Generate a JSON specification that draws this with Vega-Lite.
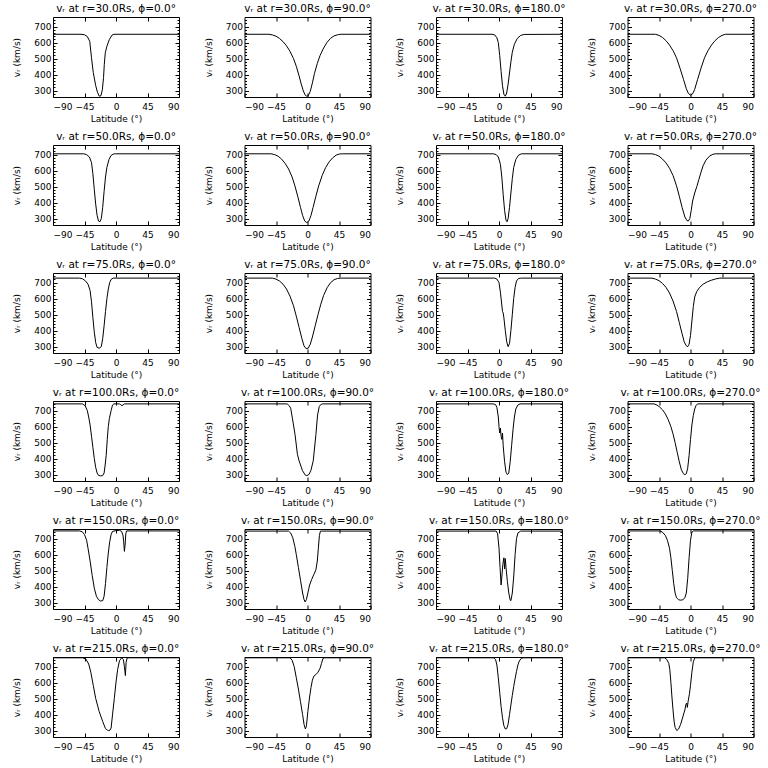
{
"$schema": "https://vega.github.io/schema/vega-lite/v6.json",
"padding": {"left": 12, "top": 3, "right": 0, "bottom": 0},
"background": "white",
"data": {"values": [
{"r":30,"phi":0,"lat":-90,"v":652},{"r":30,"phi":0,"lat":-50,"v":652},{"r":30,"phi":0,"lat":-45,"v":649},{"r":30,"phi":0,"lat":-41,"v":638},{"r":30,"phi":0,"lat":-37.5,"v":608},{"r":30,"phi":0,"lat":-35,"v":505},{"r":30,"phi":0,"lat":-32.5,"v":413},{"r":30,"phi":0,"lat":-29,"v":331},{"r":30,"phi":0,"lat":-26.5,"v":290},{"r":30,"phi":0,"lat":-24,"v":265},{"r":30,"phi":0,"lat":-21.5,"v":268},{"r":30,"phi":0,"lat":-19.5,"v":305},{"r":30,"phi":0,"lat":-17.8,"v":382},{"r":30,"phi":0,"lat":-16.7,"v":464},{"r":30,"phi":0,"lat":-15.3,"v":536},{"r":30,"phi":0,"lat":-13,"v":577},{"r":30,"phi":0,"lat":-9.6,"v":618},{"r":30,"phi":0,"lat":-5.7,"v":647},{"r":30,"phi":0,"lat":-3,"v":652},{"r":30,"phi":0,"lat":90,"v":652},
{"r":30,"phi":90,"lat":-90,"v":652},{"r":30,"phi":90,"lat":-55,"v":652},{"r":30,"phi":90,"lat":-50,"v":648},{"r":30,"phi":90,"lat":-45,"v":640},{"r":30,"phi":90,"lat":-40,"v":626},{"r":30,"phi":90,"lat":-35,"v":606},{"r":30,"phi":90,"lat":-30,"v":580},{"r":30,"phi":90,"lat":-25,"v":546},{"r":30,"phi":90,"lat":-20,"v":500},{"r":30,"phi":90,"lat":-16,"v":452},{"r":30,"phi":90,"lat":-12,"v":392},{"r":30,"phi":90,"lat":-9,"v":342},{"r":30,"phi":90,"lat":-6,"v":298},{"r":30,"phi":90,"lat":-3,"v":270},{"r":30,"phi":90,"lat":-1,"v":265},{"r":30,"phi":90,"lat":1,"v":268},{"r":30,"phi":90,"lat":4,"v":296},{"r":30,"phi":90,"lat":7,"v":348},{"r":30,"phi":90,"lat":10,"v":408},{"r":30,"phi":90,"lat":14,"v":470},{"r":30,"phi":90,"lat":18,"v":520},{"r":30,"phi":90,"lat":23,"v":566},{"r":30,"phi":90,"lat":28,"v":602},{"r":30,"phi":90,"lat":33,"v":627},{"r":30,"phi":90,"lat":38,"v":642},{"r":30,"phi":90,"lat":44,"v":650},{"r":30,"phi":90,"lat":48,"v":652},{"r":30,"phi":90,"lat":90,"v":652},
{"r":30,"phi":180,"lat":-90,"v":652},{"r":30,"phi":180,"lat":-10,"v":652},{"r":30,"phi":180,"lat":-6,"v":648},{"r":30,"phi":180,"lat":-3,"v":630},{"r":30,"phi":180,"lat":-1,"v":600},{"r":30,"phi":180,"lat":1,"v":520},{"r":30,"phi":180,"lat":3,"v":420},{"r":30,"phi":180,"lat":5,"v":330},{"r":30,"phi":180,"lat":7,"v":277},{"r":30,"phi":180,"lat":9,"v":265},{"r":30,"phi":180,"lat":11,"v":285},{"r":30,"phi":180,"lat":13,"v":340},{"r":30,"phi":180,"lat":15,"v":410},{"r":30,"phi":180,"lat":17,"v":480},{"r":30,"phi":180,"lat":19,"v":540},{"r":30,"phi":180,"lat":22,"v":590},{"r":30,"phi":180,"lat":26,"v":625},{"r":30,"phi":180,"lat":31,"v":645},{"r":30,"phi":180,"lat":36,"v":651},{"r":30,"phi":180,"lat":90,"v":652},
{"r":30,"phi":270,"lat":-90,"v":652},{"r":30,"phi":270,"lat":-50,"v":652},{"r":30,"phi":270,"lat":-45,"v":645},{"r":30,"phi":270,"lat":-40,"v":632},{"r":30,"phi":270,"lat":-35,"v":612},{"r":30,"phi":270,"lat":-30,"v":585},{"r":30,"phi":270,"lat":-25,"v":550},{"r":30,"phi":270,"lat":-20,"v":505},{"r":30,"phi":270,"lat":-15,"v":440},{"r":30,"phi":270,"lat":-10,"v":370},{"r":30,"phi":270,"lat":-6,"v":312},{"r":30,"phi":270,"lat":-3,"v":282},{"r":30,"phi":270,"lat":0,"v":272},{"r":30,"phi":270,"lat":3,"v":280},{"r":30,"phi":270,"lat":6,"v":308},{"r":30,"phi":270,"lat":10,"v":368},{"r":30,"phi":270,"lat":15,"v":440},{"r":30,"phi":270,"lat":20,"v":505},{"r":30,"phi":270,"lat":25,"v":550},{"r":30,"phi":270,"lat":30,"v":585},{"r":30,"phi":270,"lat":35,"v":612},{"r":30,"phi":270,"lat":40,"v":632},{"r":30,"phi":270,"lat":45,"v":645},{"r":30,"phi":270,"lat":50,"v":652},{"r":30,"phi":270,"lat":90,"v":652},
{"r":50,"phi":0,"lat":-90,"v":705},{"r":50,"phi":0,"lat":-46,"v":705},{"r":50,"phi":0,"lat":-42,"v":700},{"r":50,"phi":0,"lat":-38,"v":685},{"r":50,"phi":0,"lat":-35,"v":650},{"r":50,"phi":0,"lat":-33,"v":580},{"r":50,"phi":0,"lat":-31,"v":480},{"r":50,"phi":0,"lat":-29,"v":390},{"r":50,"phi":0,"lat":-27,"v":320},{"r":50,"phi":0,"lat":-25,"v":285},{"r":50,"phi":0,"lat":-23,"v":280},{"r":50,"phi":0,"lat":-21,"v":300},{"r":50,"phi":0,"lat":-19,"v":370},{"r":50,"phi":0,"lat":-17,"v":470},{"r":50,"phi":0,"lat":-15,"v":560},{"r":50,"phi":0,"lat":-13,"v":620},{"r":50,"phi":0,"lat":-10,"v":670},{"r":50,"phi":0,"lat":-7,"v":695},{"r":50,"phi":0,"lat":-4,"v":703},{"r":50,"phi":0,"lat":-1,"v":705},{"r":50,"phi":0,"lat":90,"v":705},
{"r":50,"phi":90,"lat":-90,"v":705},{"r":50,"phi":90,"lat":-52,"v":705},{"r":50,"phi":90,"lat":-47,"v":700},{"r":50,"phi":90,"lat":-42,"v":690},{"r":50,"phi":90,"lat":-37,"v":672},{"r":50,"phi":90,"lat":-32,"v":645},{"r":50,"phi":90,"lat":-27,"v":610},{"r":50,"phi":90,"lat":-22,"v":560},{"r":50,"phi":90,"lat":-18,"v":505},{"r":50,"phi":90,"lat":-14,"v":440},{"r":50,"phi":90,"lat":-10,"v":370},{"r":50,"phi":90,"lat":-7,"v":320},{"r":50,"phi":90,"lat":-4,"v":285},{"r":50,"phi":90,"lat":-1,"v":275},{"r":50,"phi":90,"lat":2,"v":285},{"r":50,"phi":90,"lat":5,"v":320},{"r":50,"phi":90,"lat":8,"v":370},{"r":50,"phi":90,"lat":12,"v":440},{"r":50,"phi":90,"lat":16,"v":505},{"r":50,"phi":90,"lat":21,"v":570},{"r":50,"phi":90,"lat":26,"v":620},{"r":50,"phi":90,"lat":31,"v":655},{"r":50,"phi":90,"lat":36,"v":680},{"r":50,"phi":90,"lat":41,"v":697},{"r":50,"phi":90,"lat":46,"v":704},{"r":50,"phi":90,"lat":50,"v":705},{"r":50,"phi":90,"lat":90,"v":705},
{"r":50,"phi":180,"lat":-90,"v":705},{"r":50,"phi":180,"lat":-8,"v":705},{"r":50,"phi":180,"lat":-4,"v":700},{"r":50,"phi":180,"lat":-1,"v":685},{"r":50,"phi":180,"lat":2,"v":640},{"r":50,"phi":180,"lat":4,"v":560},{"r":50,"phi":180,"lat":6,"v":450},{"r":50,"phi":180,"lat":8,"v":350},{"r":50,"phi":180,"lat":10,"v":290},{"r":50,"phi":180,"lat":11.5,"v":280},{"r":50,"phi":180,"lat":13,"v":300},{"r":50,"phi":180,"lat":15,"v":370},{"r":50,"phi":180,"lat":17,"v":460},{"r":50,"phi":180,"lat":19,"v":550},{"r":50,"phi":180,"lat":21,"v":620},{"r":50,"phi":180,"lat":24,"v":670},{"r":50,"phi":180,"lat":28,"v":697},{"r":50,"phi":180,"lat":32,"v":705},{"r":50,"phi":180,"lat":90,"v":705},
{"r":50,"phi":270,"lat":-90,"v":705},{"r":50,"phi":270,"lat":-55,"v":705},{"r":50,"phi":270,"lat":-50,"v":700},{"r":50,"phi":270,"lat":-45,"v":690},{"r":50,"phi":270,"lat":-40,"v":672},{"r":50,"phi":270,"lat":-35,"v":648},{"r":50,"phi":270,"lat":-30,"v":615},{"r":50,"phi":270,"lat":-25,"v":570},{"r":50,"phi":270,"lat":-20,"v":505},{"r":50,"phi":270,"lat":-16,"v":440},{"r":50,"phi":270,"lat":-12,"v":370},{"r":50,"phi":270,"lat":-8,"v":310},{"r":50,"phi":270,"lat":-5,"v":287},{"r":50,"phi":270,"lat":-3,"v":285},{"r":50,"phi":270,"lat":-1,"v":300},{"r":50,"phi":270,"lat":1,"v":350},{"r":50,"phi":270,"lat":3,"v":410},{"r":50,"phi":270,"lat":6,"v":460},{"r":50,"phi":270,"lat":9,"v":500},{"r":50,"phi":270,"lat":12,"v":545},{"r":50,"phi":270,"lat":15,"v":590},{"r":50,"phi":270,"lat":18,"v":630},{"r":50,"phi":270,"lat":22,"v":665},{"r":50,"phi":270,"lat":27,"v":690},{"r":50,"phi":270,"lat":32,"v":702},{"r":50,"phi":270,"lat":36,"v":705},{"r":50,"phi":270,"lat":90,"v":705},
{"r":75,"phi":0,"lat":-90,"v":728},{"r":75,"phi":0,"lat":-52,"v":728},{"r":75,"phi":0,"lat":-48,"v":724},{"r":75,"phi":0,"lat":-44,"v":712},{"r":75,"phi":0,"lat":-40,"v":690},{"r":75,"phi":0,"lat":-37,"v":650},{"r":75,"phi":0,"lat":-35,"v":580},{"r":75,"phi":0,"lat":-33,"v":480},{"r":75,"phi":0,"lat":-31,"v":390},{"r":75,"phi":0,"lat":-29,"v":325},{"r":75,"phi":0,"lat":-27,"v":295},{"r":75,"phi":0,"lat":-24,"v":290},{"r":75,"phi":0,"lat":-21,"v":300},{"r":75,"phi":0,"lat":-19,"v":350},{"r":75,"phi":0,"lat":-17,"v":430},{"r":75,"phi":0,"lat":-15,"v":520},{"r":75,"phi":0,"lat":-13,"v":600},{"r":75,"phi":0,"lat":-11,"v":660},{"r":75,"phi":0,"lat":-9,"v":700},{"r":75,"phi":0,"lat":-7,"v":720},{"r":75,"phi":0,"lat":-4,"v":728},{"r":75,"phi":0,"lat":90,"v":728},
{"r":75,"phi":90,"lat":-90,"v":728},{"r":75,"phi":90,"lat":-50,"v":728},{"r":75,"phi":90,"lat":-45,"v":722},{"r":75,"phi":90,"lat":-40,"v":710},{"r":75,"phi":90,"lat":-35,"v":690},{"r":75,"phi":90,"lat":-30,"v":660},{"r":75,"phi":90,"lat":-25,"v":615},{"r":75,"phi":90,"lat":-20,"v":555},{"r":75,"phi":90,"lat":-16,"v":490},{"r":75,"phi":90,"lat":-12,"v":420},{"r":75,"phi":90,"lat":-8,"v":350},{"r":75,"phi":90,"lat":-5,"v":305},{"r":75,"phi":90,"lat":-2,"v":287},{"r":75,"phi":90,"lat":1,"v":290},{"r":75,"phi":90,"lat":4,"v":315},{"r":75,"phi":90,"lat":7,"v":360},{"r":75,"phi":90,"lat":11,"v":430},{"r":75,"phi":90,"lat":15,"v":500},{"r":75,"phi":90,"lat":19,"v":565},{"r":75,"phi":90,"lat":23,"v":620},{"r":75,"phi":90,"lat":28,"v":668},{"r":75,"phi":90,"lat":33,"v":700},{"r":75,"phi":90,"lat":38,"v":718},{"r":75,"phi":90,"lat":43,"v":726},{"r":75,"phi":90,"lat":48,"v":728},{"r":75,"phi":90,"lat":90,"v":728},
{"r":75,"phi":180,"lat":-90,"v":728},{"r":75,"phi":180,"lat":-6,"v":728},{"r":75,"phi":180,"lat":-3,"v":722},{"r":75,"phi":180,"lat":0,"v":700},{"r":75,"phi":180,"lat":2,"v":640},{"r":75,"phi":180,"lat":4,"v":560},{"r":75,"phi":180,"lat":5,"v":520},{"r":75,"phi":180,"lat":6,"v":510},{"r":75,"phi":180,"lat":7,"v":480},{"r":75,"phi":180,"lat":9,"v":400},{"r":75,"phi":180,"lat":11,"v":330},{"r":75,"phi":180,"lat":13,"v":300},{"r":75,"phi":180,"lat":15,"v":320},{"r":75,"phi":180,"lat":17,"v":400},{"r":75,"phi":180,"lat":19,"v":500},{"r":75,"phi":180,"lat":21,"v":600},{"r":75,"phi":180,"lat":23,"v":670},{"r":75,"phi":180,"lat":25,"v":710},{"r":75,"phi":180,"lat":28,"v":726},{"r":75,"phi":180,"lat":32,"v":728},{"r":75,"phi":180,"lat":90,"v":728},
{"r":75,"phi":270,"lat":-90,"v":728},{"r":75,"phi":270,"lat":-55,"v":728},{"r":75,"phi":270,"lat":-50,"v":722},{"r":75,"phi":270,"lat":-45,"v":712},{"r":75,"phi":270,"lat":-40,"v":695},{"r":75,"phi":270,"lat":-35,"v":670},{"r":75,"phi":270,"lat":-30,"v":635},{"r":75,"phi":270,"lat":-25,"v":585},{"r":75,"phi":270,"lat":-20,"v":520},{"r":75,"phi":270,"lat":-16,"v":450},{"r":75,"phi":270,"lat":-12,"v":380},{"r":75,"phi":270,"lat":-9,"v":330},{"r":75,"phi":270,"lat":-6,"v":305},{"r":75,"phi":270,"lat":-4,"v":300},{"r":75,"phi":270,"lat":-2,"v":315},{"r":75,"phi":270,"lat":0,"v":370},{"r":75,"phi":270,"lat":2,"v":460},{"r":75,"phi":270,"lat":4,"v":550},{"r":75,"phi":270,"lat":6,"v":610},{"r":75,"phi":270,"lat":9,"v":645},{"r":75,"phi":270,"lat":13,"v":670},{"r":75,"phi":270,"lat":18,"v":690},{"r":75,"phi":270,"lat":24,"v":705},{"r":75,"phi":270,"lat":30,"v":715},{"r":75,"phi":270,"lat":36,"v":723},{"r":75,"phi":270,"lat":42,"v":728},{"r":75,"phi":270,"lat":90,"v":728},
{"r":100,"phi":0,"lat":-90,"v":742},{"r":100,"phi":0,"lat":-48,"v":742},{"r":100,"phi":0,"lat":-44,"v":730},{"r":100,"phi":0,"lat":-41,"v":700},{"r":100,"phi":0,"lat":-39,"v":660},{"r":100,"phi":0,"lat":-37,"v":610},{"r":100,"phi":0,"lat":-35,"v":540},{"r":100,"phi":0,"lat":-33,"v":470},{"r":100,"phi":0,"lat":-31,"v":400},{"r":100,"phi":0,"lat":-29,"v":345},{"r":100,"phi":0,"lat":-27,"v":310},{"r":100,"phi":0,"lat":-25,"v":295},{"r":100,"phi":0,"lat":-22,"v":292},{"r":100,"phi":0,"lat":-19,"v":294},{"r":100,"phi":0,"lat":-17,"v":310},{"r":100,"phi":0,"lat":-15.5,"v":360},{"r":100,"phi":0,"lat":-14,"v":420},{"r":100,"phi":0,"lat":-12.5,"v":520},{"r":100,"phi":0,"lat":-11,"v":600},{"r":100,"phi":0,"lat":-9.5,"v":650},{"r":100,"phi":0,"lat":-7,"v":700},{"r":100,"phi":0,"lat":-5,"v":735},{"r":100,"phi":0,"lat":-3,"v":742},{"r":100,"phi":0,"lat":5,"v":742},{"r":100,"phi":0,"lat":7,"v":736},{"r":100,"phi":0,"lat":8.5,"v":731},{"r":100,"phi":0,"lat":10,"v":735},{"r":100,"phi":0,"lat":12,"v":742},{"r":100,"phi":0,"lat":90,"v":742},
{"r":100,"phi":90,"lat":-90,"v":742},{"r":100,"phi":90,"lat":-29,"v":742},{"r":100,"phi":90,"lat":-26,"v":730},{"r":100,"phi":90,"lat":-24,"v":714},{"r":100,"phi":90,"lat":-21.6,"v":653},{"r":100,"phi":90,"lat":-17.8,"v":550},{"r":100,"phi":90,"lat":-14.4,"v":427},{"r":100,"phi":90,"lat":-12,"v":386},{"r":100,"phi":90,"lat":-7.2,"v":325},{"r":100,"phi":90,"lat":-3,"v":296},{"r":100,"phi":90,"lat":-1,"v":294},{"r":100,"phi":90,"lat":2,"v":300},{"r":100,"phi":90,"lat":4.8,"v":325},{"r":100,"phi":90,"lat":8.2,"v":386},{"r":100,"phi":90,"lat":12,"v":550},{"r":100,"phi":90,"lat":14.4,"v":673},{"r":100,"phi":90,"lat":16.8,"v":725},{"r":100,"phi":90,"lat":19,"v":738},{"r":100,"phi":90,"lat":21.6,"v":742},{"r":100,"phi":90,"lat":90,"v":742},
{"r":100,"phi":180,"lat":-90,"v":742},{"r":100,"phi":180,"lat":-8,"v":742},{"r":100,"phi":180,"lat":-5,"v":738},{"r":100,"phi":180,"lat":-3,"v":720},{"r":100,"phi":180,"lat":-1,"v":660},{"r":100,"phi":180,"lat":0,"v":600},{"r":100,"phi":180,"lat":1,"v":560},{"r":100,"phi":180,"lat":2,"v":590},{"r":100,"phi":180,"lat":3,"v":540},{"r":100,"phi":180,"lat":4,"v":520},{"r":100,"phi":180,"lat":5,"v":560},{"r":100,"phi":180,"lat":6,"v":480},{"r":100,"phi":180,"lat":8,"v":380},{"r":100,"phi":180,"lat":10,"v":315},{"r":100,"phi":180,"lat":12,"v":300},{"r":100,"phi":180,"lat":14,"v":310},{"r":100,"phi":180,"lat":16,"v":380},{"r":100,"phi":180,"lat":18,"v":480},{"r":100,"phi":180,"lat":20,"v":580},{"r":100,"phi":180,"lat":22,"v":660},{"r":100,"phi":180,"lat":24,"v":710},{"r":100,"phi":180,"lat":27,"v":735},{"r":100,"phi":180,"lat":30,"v":742},{"r":100,"phi":180,"lat":90,"v":742},
{"r":100,"phi":270,"lat":-90,"v":742},{"r":100,"phi":270,"lat":-52,"v":742},{"r":100,"phi":270,"lat":-48,"v":735},{"r":100,"phi":270,"lat":-44,"v":722},{"r":100,"phi":270,"lat":-40,"v":705},{"r":100,"phi":270,"lat":-36,"v":680},{"r":100,"phi":270,"lat":-32,"v":645},{"r":100,"phi":270,"lat":-28,"v":600},{"r":100,"phi":270,"lat":-25,"v":555},{"r":100,"phi":270,"lat":-22,"v":500},{"r":100,"phi":270,"lat":-19,"v":440},{"r":100,"phi":270,"lat":-16,"v":380},{"r":100,"phi":270,"lat":-13,"v":330},{"r":100,"phi":270,"lat":-10,"v":305},{"r":100,"phi":270,"lat":-8,"v":300},{"r":100,"phi":270,"lat":-6,"v":305},{"r":100,"phi":270,"lat":-4,"v":340},{"r":100,"phi":270,"lat":-2,"v":420},{"r":100,"phi":270,"lat":0,"v":520},{"r":100,"phi":270,"lat":2,"v":610},{"r":100,"phi":270,"lat":4,"v":670},{"r":100,"phi":270,"lat":6,"v":710},{"r":100,"phi":270,"lat":8,"v":732},{"r":100,"phi":270,"lat":10,"v":742},{"r":100,"phi":270,"lat":90,"v":742},
{"r":150,"phi":0,"lat":-90,"v":748},{"r":150,"phi":0,"lat":-52,"v":748},{"r":150,"phi":0,"lat":-48,"v":742},{"r":150,"phi":0,"lat":-45,"v":725},{"r":150,"phi":0,"lat":-42,"v":690},{"r":150,"phi":0,"lat":-40,"v":640},{"r":150,"phi":0,"lat":-37,"v":560},{"r":150,"phi":0,"lat":-34,"v":470},{"r":150,"phi":0,"lat":-31,"v":390},{"r":150,"phi":0,"lat":-28,"v":340},{"r":150,"phi":0,"lat":-25,"v":318},{"r":150,"phi":0,"lat":-22,"v":310},{"r":150,"phi":0,"lat":-19,"v":312},{"r":150,"phi":0,"lat":-17,"v":340},{"r":150,"phi":0,"lat":-15,"v":420},{"r":150,"phi":0,"lat":-13,"v":520},{"r":150,"phi":0,"lat":-11,"v":610},{"r":150,"phi":0,"lat":-9,"v":680},{"r":150,"phi":0,"lat":-7,"v":725},{"r":150,"phi":0,"lat":-5,"v":745},{"r":150,"phi":0,"lat":0,"v":750},{"r":150,"phi":0,"lat":5,"v":752},{"r":150,"phi":0,"lat":8,"v":745},{"r":150,"phi":0,"lat":10,"v":720},{"r":150,"phi":0,"lat":11,"v":680},{"r":150,"phi":0,"lat":12,"v":620},{"r":150,"phi":0,"lat":13,"v":660},{"r":150,"phi":0,"lat":14,"v":730},{"r":150,"phi":0,"lat":15,"v":748},{"r":150,"phi":0,"lat":90,"v":748},
{"r":150,"phi":90,"lat":-90,"v":747},{"r":150,"phi":90,"lat":-27,"v":747},{"r":150,"phi":90,"lat":-24,"v":735},{"r":150,"phi":90,"lat":-21,"v":705},{"r":150,"phi":90,"lat":-18,"v":650},{"r":150,"phi":90,"lat":-16,"v":600},{"r":150,"phi":90,"lat":-13,"v":520},{"r":150,"phi":90,"lat":-10,"v":440},{"r":150,"phi":90,"lat":-7,"v":360},{"r":150,"phi":90,"lat":-5,"v":320},{"r":150,"phi":90,"lat":-3.4,"v":304},{"r":150,"phi":90,"lat":-1.5,"v":320},{"r":150,"phi":90,"lat":0.5,"v":360},{"r":150,"phi":90,"lat":3,"v":410},{"r":150,"phi":90,"lat":6,"v":445},{"r":150,"phi":90,"lat":9,"v":475},{"r":150,"phi":90,"lat":12,"v":505},{"r":150,"phi":90,"lat":14,"v":560},{"r":150,"phi":90,"lat":15.5,"v":640},{"r":150,"phi":90,"lat":17,"v":720},{"r":150,"phi":90,"lat":18.5,"v":747},{"r":150,"phi":90,"lat":90,"v":747},
{"r":150,"phi":180,"lat":-90,"v":747},{"r":150,"phi":180,"lat":-4,"v":747},{"r":150,"phi":180,"lat":-2,"v":730},{"r":150,"phi":180,"lat":0,"v":640},{"r":150,"phi":180,"lat":1.5,"v":520},{"r":150,"phi":180,"lat":3,"v":410},{"r":150,"phi":180,"lat":4,"v":460},{"r":150,"phi":180,"lat":5.5,"v":540},{"r":150,"phi":180,"lat":7,"v":580},{"r":150,"phi":180,"lat":8,"v":510},{"r":150,"phi":180,"lat":9,"v":575},{"r":150,"phi":180,"lat":10,"v":520},{"r":150,"phi":180,"lat":12,"v":430},{"r":150,"phi":180,"lat":14,"v":360},{"r":150,"phi":180,"lat":16,"v":315},{"r":150,"phi":180,"lat":17,"v":312},{"r":150,"phi":180,"lat":19,"v":360},{"r":150,"phi":180,"lat":21,"v":460},{"r":150,"phi":180,"lat":23,"v":600},{"r":150,"phi":180,"lat":25,"v":700},{"r":150,"phi":180,"lat":27,"v":735},{"r":150,"phi":180,"lat":31,"v":747},{"r":150,"phi":180,"lat":90,"v":747},
{"r":150,"phi":270,"lat":-90,"v":748},{"r":150,"phi":270,"lat":-44,"v":748},{"r":150,"phi":270,"lat":-40,"v":740},{"r":150,"phi":270,"lat":-36,"v":720},{"r":150,"phi":270,"lat":-33,"v":690},{"r":150,"phi":270,"lat":-30,"v":640},{"r":150,"phi":270,"lat":-28,"v":580},{"r":150,"phi":270,"lat":-26,"v":500},{"r":150,"phi":270,"lat":-24,"v":420},{"r":150,"phi":270,"lat":-22,"v":360},{"r":150,"phi":270,"lat":-20,"v":330},{"r":150,"phi":270,"lat":-17,"v":318},{"r":150,"phi":270,"lat":-14,"v":315},{"r":150,"phi":270,"lat":-11,"v":318},{"r":150,"phi":270,"lat":-8,"v":330},{"r":150,"phi":270,"lat":-6,"v":360},{"r":150,"phi":270,"lat":-4,"v":450},{"r":150,"phi":270,"lat":-2,"v":580},{"r":150,"phi":270,"lat":0,"v":690},{"r":150,"phi":270,"lat":2,"v":740},{"r":150,"phi":270,"lat":4,"v":748},{"r":150,"phi":270,"lat":90,"v":748},
{"r":215,"phi":0,"lat":-90,"v":755},{"r":215,"phi":0,"lat":-48,"v":755},{"r":215,"phi":0,"lat":-43,"v":747},{"r":215,"phi":0,"lat":-39,"v":716},{"r":215,"phi":0,"lat":-36,"v":665},{"r":215,"phi":0,"lat":-32.5,"v":583},{"r":215,"phi":0,"lat":-29,"v":501},{"r":215,"phi":0,"lat":-24,"v":419},{"r":215,"phi":0,"lat":-19,"v":357},{"r":215,"phi":0,"lat":-15,"v":312},{"r":215,"phi":0,"lat":-12,"v":302},{"r":215,"phi":0,"lat":-10.5,"v":300},{"r":215,"phi":0,"lat":-8.5,"v":303},{"r":215,"phi":0,"lat":-7,"v":316},{"r":215,"phi":0,"lat":-5,"v":398},{"r":215,"phi":0,"lat":-2.4,"v":501},{"r":215,"phi":0,"lat":0,"v":603},{"r":215,"phi":0,"lat":2.4,"v":683},{"r":215,"phi":0,"lat":5,"v":737},{"r":215,"phi":0,"lat":8,"v":755},{"r":215,"phi":0,"lat":10.5,"v":745},{"r":215,"phi":0,"lat":12,"v":700},{"r":215,"phi":0,"lat":13.4,"v":644},{"r":215,"phi":0,"lat":14.4,"v":726},{"r":215,"phi":0,"lat":16,"v":755},{"r":215,"phi":0,"lat":90,"v":755},
{"r":215,"phi":90,"lat":-90,"v":755},{"r":215,"phi":90,"lat":-25,"v":755},{"r":215,"phi":90,"lat":-22,"v":740},{"r":215,"phi":90,"lat":-19,"v":700},{"r":215,"phi":90,"lat":-16,"v":630},{"r":215,"phi":90,"lat":-13,"v":560},{"r":215,"phi":90,"lat":-10,"v":480},{"r":215,"phi":90,"lat":-7,"v":400},{"r":215,"phi":90,"lat":-5,"v":340},{"r":215,"phi":90,"lat":-3,"v":310},{"r":215,"phi":90,"lat":-1.5,"v":330},{"r":215,"phi":90,"lat":0.5,"v":420},{"r":215,"phi":90,"lat":3,"v":510},{"r":215,"phi":90,"lat":5,"v":570},{"r":215,"phi":90,"lat":7,"v":615},{"r":215,"phi":90,"lat":9,"v":640},{"r":215,"phi":90,"lat":12,"v":650},{"r":215,"phi":90,"lat":15,"v":665},{"r":215,"phi":90,"lat":18,"v":690},{"r":215,"phi":90,"lat":20,"v":720},{"r":215,"phi":90,"lat":22,"v":750},{"r":215,"phi":90,"lat":24,"v":755},{"r":215,"phi":90,"lat":90,"v":755},
{"r":215,"phi":180,"lat":-90,"v":755},{"r":215,"phi":180,"lat":-8,"v":755},{"r":215,"phi":180,"lat":-5,"v":745},{"r":215,"phi":180,"lat":-3,"v":710},{"r":215,"phi":180,"lat":-1,"v":630},{"r":215,"phi":180,"lat":1,"v":540},{"r":215,"phi":180,"lat":3,"v":450},{"r":215,"phi":180,"lat":5,"v":380},{"r":215,"phi":180,"lat":7,"v":330},{"r":215,"phi":180,"lat":9,"v":310},{"r":215,"phi":180,"lat":11,"v":312},{"r":215,"phi":180,"lat":13,"v":340},{"r":215,"phi":180,"lat":15,"v":400},{"r":215,"phi":180,"lat":17,"v":460},{"r":215,"phi":180,"lat":19,"v":520},{"r":215,"phi":180,"lat":21,"v":575},{"r":215,"phi":180,"lat":23,"v":625},{"r":215,"phi":180,"lat":25,"v":670},{"r":215,"phi":180,"lat":27,"v":710},{"r":215,"phi":180,"lat":29,"v":735},{"r":215,"phi":180,"lat":32,"v":752},{"r":215,"phi":180,"lat":35,"v":755},{"r":215,"phi":180,"lat":90,"v":755},
{"r":215,"phi":270,"lat":-90,"v":755},{"r":215,"phi":270,"lat":-37,"v":755},{"r":215,"phi":270,"lat":-34,"v":745},{"r":215,"phi":270,"lat":-31,"v":720},{"r":215,"phi":270,"lat":-29.5,"v":680},{"r":215,"phi":270,"lat":-28,"v":600},{"r":215,"phi":270,"lat":-26.5,"v":510},{"r":215,"phi":270,"lat":-25,"v":430},{"r":215,"phi":270,"lat":-23.5,"v":360},{"r":215,"phi":270,"lat":-22,"v":320},{"r":215,"phi":270,"lat":-19.5,"v":300},{"r":215,"phi":270,"lat":-17,"v":310},{"r":215,"phi":270,"lat":-14,"v":340},{"r":215,"phi":270,"lat":-11,"v":385},{"r":215,"phi":270,"lat":-8,"v":430},{"r":215,"phi":270,"lat":-6.5,"v":465},{"r":215,"phi":270,"lat":-5.5,"v":472},{"r":215,"phi":270,"lat":-4.5,"v":445},{"r":215,"phi":270,"lat":-3.5,"v":480},{"r":215,"phi":270,"lat":-1.5,"v":530},{"r":215,"phi":270,"lat":0,"v":583},{"r":215,"phi":270,"lat":2,"v":665},{"r":215,"phi":270,"lat":4,"v":730},{"r":215,"phi":270,"lat":6,"v":753},{"r":215,"phi":270,"lat":7,"v":755},{"r":215,"phi":270,"lat":90,"v":755}
]},
"transform": [{"calculate": "'vᵣ at r=' + format(datum.r, '.1f') + 'Rs, ϕ=' + format(datum.phi, '.1f') + '°'", "as": "title"}],
"facet": {"field": "title", "type": "nominal", "sort": [
"vᵣ at r=30.0Rs, ϕ=0.0°","vᵣ at r=30.0Rs, ϕ=90.0°","vᵣ at r=30.0Rs, ϕ=180.0°","vᵣ at r=30.0Rs, ϕ=270.0°",
"vᵣ at r=50.0Rs, ϕ=0.0°","vᵣ at r=50.0Rs, ϕ=90.0°","vᵣ at r=50.0Rs, ϕ=180.0°","vᵣ at r=50.0Rs, ϕ=270.0°",
"vᵣ at r=75.0Rs, ϕ=0.0°","vᵣ at r=75.0Rs, ϕ=90.0°","vᵣ at r=75.0Rs, ϕ=180.0°","vᵣ at r=75.0Rs, ϕ=270.0°",
"vᵣ at r=100.0Rs, ϕ=0.0°","vᵣ at r=100.0Rs, ϕ=90.0°","vᵣ at r=100.0Rs, ϕ=180.0°","vᵣ at r=100.0Rs, ϕ=270.0°",
"vᵣ at r=150.0Rs, ϕ=0.0°","vᵣ at r=150.0Rs, ϕ=90.0°","vᵣ at r=150.0Rs, ϕ=180.0°","vᵣ at r=150.0Rs, ϕ=270.0°",
"vᵣ at r=215.0Rs, ϕ=0.0°","vᵣ at r=215.0Rs, ϕ=90.0°","vᵣ at r=215.0Rs, ϕ=180.0°","vᵣ at r=215.0Rs, ϕ=270.0°"],
"header": {"title": null, "labels": false, "labelExpr": "''", "labelFontSize": 0, "labelPadding": 0}},
"columns": 4,
"bounds": "flush",
"spacing": {"row": 48, "column": 65.5},
"resolve": {"axis": {"x": "independent", "y": "independent"}},
"spec": {
"width": 126, "height": 80,
"resolve": {"axis": {"x": "independent", "y": "independent"}},
"layer": [
{"mark": {"type": "line", "color": "black", "strokeWidth": 1, "clip": true},
 "encoding": {
  "x": {"field": "lat", "type": "quantitative", "scale": {"domain": [-90, 90], "nice": false, "zero": false},
        "axis": {"orient": "bottom", "values": [-90, -45, 0, 45, 90], "title": "Latitude (°)", "tickSize": -4, "labelPadding": 9, "titlePadding": 3, "domain": false, "grid": false}},
  "y": {"field": "v", "type": "quantitative", "scale": {"domain": [260, 760], "nice": false, "zero": false},
        "axis": {"orient": "left", "values": [300, 400, 500, 600, 700], "title": "vᵣ (km/s)", "tickSize": -4, "labelPadding": 6, "titlePadding": 12, "domain": false, "grid": false}}
 }},
{"mark": {"type": "line", "opacity": 0},
 "encoding": {
  "x": {"field": "lat", "type": "quantitative", "scale": {"domain": [-90, 90], "nice": false, "zero": false},
        "axis": {"orient": "top", "values": [-45, 0, 45], "labels": false, "title": null, "tickSize": -4, "domain": false, "grid": false}},
  "y": {"field": "v", "type": "quantitative", "scale": {"domain": [260, 760], "nice": false, "zero": false},
        "axis": {"orient": "right", "values": [300, 400, 500, 600, 700], "labels": false, "title": null, "tickSize": -4, "domain": false, "grid": false}}
 }},
{"mark": {"type": "line", "opacity": 0},
 "encoding": {
  "x": {"field": "lat", "type": "quantitative", "scale": {"domain": [-90, 90], "nice": false, "zero": false}, "axis": null},
  "y": {"field": "v", "type": "quantitative", "scale": {"domain": [260, 760], "nice": false, "zero": false},
        "axis": {"orient": "left", "values": [280, 320, 340, 360, 380, 420, 440, 460, 480, 520, 540, 560, 580, 620, 640, 660, 680, 720, 740], "labels": false, "title": null, "tickSize": -2, "domain": false, "grid": false}}
 }},
{"mark": {"type": "line", "opacity": 0},
 "encoding": {
  "x": {"field": "lat", "type": "quantitative", "scale": {"domain": [-90, 90], "nice": false, "zero": false}, "axis": null},
  "y": {"field": "v", "type": "quantitative", "scale": {"domain": [260, 760], "nice": false, "zero": false},
        "axis": {"orient": "right", "values": [280, 320, 340, 360, 380, 420, 440, 460, 480, 520, 540, 560, 580, 620, 640, 660, 680, 720, 740], "labels": false, "title": null, "tickSize": -2, "domain": false, "grid": false}}
 }},
{"transform": [{"filter": "datum.lat == -90"}],
 "mark": {"type": "text", "baseline": "bottom", "align": "center", "dy": -3, "font": "DejaVu Sans", "fontSize": 10.5, "color": "black", "clip": false},
 "encoding": {
  "x": {"datum": 0, "type": "quantitative", "scale": {"domain": [-90, 90], "nice": false, "zero": false}, "axis": null},
  "y": {"datum": 760, "type": "quantitative", "scale": {"domain": [260, 760], "nice": false, "zero": false}, "axis": null},
  "text": {"field": "title"}
 }}
]},
"config": {
 "view": {"stroke": "black", "strokeWidth": 1},
 "axis": {"labelFont": "DejaVu Sans", "labelFontSize": 9, "titleFont": "DejaVu Sans", "titleFontSize": 9, "titleFontWeight": "normal", "labelColor": "black", "titleColor": "black", "tickColor": "black", "tickWidth": 1}
}
}
